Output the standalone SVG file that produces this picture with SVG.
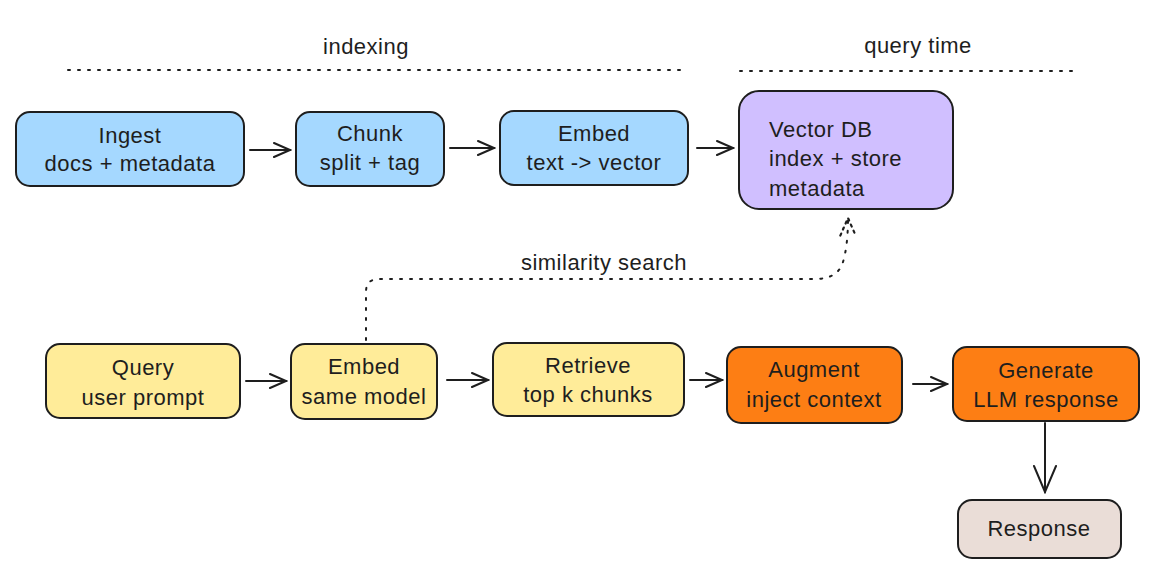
<svg xmlns="http://www.w3.org/2000/svg" width="1154" height="576" viewBox="0 0 1154 576">
<style>
.n{stroke:#1e1e1e;stroke-width:2;}
.blue{fill:#a5d8ff}.purple{fill:#d0bfff}.yellow{fill:#ffec99}.orange{fill:#fd7e14}.beige{fill:#eaddd7}
text{font-family:"Liberation Sans","Noto Sans",sans-serif;font-size:22px;letter-spacing:0.5px;fill:#1e1e1e;text-anchor:middle;dominant-baseline:central}
.c{stroke:#1e1e1e;stroke-width:2;fill:none;stroke-linecap:round}
.dot{stroke:#1e1e1e;stroke-width:2;fill:none;stroke-dasharray:2 8;stroke-linecap:round}
</style>
<defs>
<marker id="ah" viewBox="0 0 20 20" refX="18" refY="10" markerWidth="20" markerHeight="20" markerUnits="userSpaceOnUse" orient="auto">
<path d="M2,3 L18,10 L2,17" fill="none" stroke="#1e1e1e" stroke-width="2" stroke-linecap="round"/>
</marker>
<marker id="ahd" viewBox="0 0 20 20" refX="18" refY="10" markerWidth="22" markerHeight="22" markerUnits="userSpaceOnUse" orient="auto">
<path d="M2,3 L18,10 L2,17" fill="none" stroke="#1e1e1e" stroke-width="2" stroke-dasharray="2 4" stroke-linecap="round"/>
</marker>
<marker id="ahv" viewBox="0 0 30 30" refX="28" refY="15" markerWidth="30" markerHeight="30" markerUnits="userSpaceOnUse" orient="auto">
<path d="M2,4 L28,15 L2,26" fill="none" stroke="#1e1e1e" stroke-width="2" stroke-linecap="round"/>
</marker>
</defs>
<rect width="1154" height="576" fill="#ffffff"/>

<g id="section-labels">
<text x="366" y="46">indexing</text>
<line class="dot" x1="68" y1="70" x2="688" y2="70"/>
<text x="918" y="45">query time</text>
<line class="dot" x1="740" y1="71" x2="1078" y2="71"/>
</g>

<g id="connectors">
<line class="c" x1="250" y1="150" x2="290" y2="150" marker-end="url(#ah)"/>
<line class="c" x1="450" y1="148" x2="494" y2="148" marker-end="url(#ah)"/>
<line class="c" x1="697" y1="148" x2="733" y2="148" marker-end="url(#ah)"/>
<line class="c" x1="246" y1="381" x2="286" y2="381" marker-end="url(#ah)"/>
<line class="c" x1="447" y1="380" x2="488" y2="380" marker-end="url(#ah)"/>
<line class="c" x1="690" y1="380" x2="722" y2="380" marker-end="url(#ah)"/>
<line class="c" x1="913" y1="384" x2="947" y2="384" marker-end="url(#ah)"/>
<line class="c" x1="1045" y1="423" x2="1045" y2="492" marker-end="url(#ahv)"/>
<path class="dot" d="M366,340 L366,292 Q366,279 379,279 L815,279 Q838,279 843,262 Q848,245 848,218" marker-end="url(#ahd)"/>
<text x="604" y="262">similarity search</text>
</g>

<g id="ingest">
<rect class="n blue" x="16" y="112" width="228" height="74" rx="14"/>
<text x="130" y="135">Ingest</text>
<text x="130" y="163">docs + metadata</text>
</g>
<g id="chunk">
<rect class="n blue" x="296" y="112" width="148" height="74" rx="14"/>
<text x="370" y="133">Chunk</text>
<text x="370" y="162">split + tag</text>
</g>
<g id="embed-index">
<rect class="n blue" x="500" y="111" width="188" height="74" rx="14"/>
<text x="594" y="133">Embed</text>
<text x="594" y="162">text -&gt; vector</text>
</g>
<g id="vector-db">
<rect class="n purple" x="739" y="91" width="214" height="118" rx="20"/>
<text x="769" y="129" style="text-anchor:start">Vector DB</text>
<text x="769" y="158" style="text-anchor:start">index + store</text>
<text x="769" y="188" style="text-anchor:start">metadata</text>
</g>
<g id="query">
<rect class="n yellow" x="46" y="344" width="194" height="74" rx="14"/>
<text x="143" y="367">Query</text>
<text x="143" y="397">user prompt</text>
</g>
<g id="embed-query">
<rect class="n yellow" x="291" y="344" width="146" height="75" rx="14"/>
<text x="364" y="366">Embed</text>
<text x="364" y="396">same model</text>
</g>
<g id="retrieve">
<rect class="n yellow" x="493" y="343" width="191" height="73" rx="14"/>
<text x="588" y="365">Retrieve</text>
<text x="588" y="394">top k chunks</text>
</g>
<g id="augment">
<rect class="n orange" x="727" y="347" width="175" height="76" rx="14"/>
<text x="814" y="369">Augment</text>
<text x="814" y="399">inject context</text>
</g>
<g id="generate">
<rect class="n orange" x="953" y="347" width="186" height="74" rx="14"/>
<text x="1046" y="370">Generate</text>
<text x="1046" y="399">LLM response</text>
</g>
<g id="response">
<rect class="n beige" x="958" y="500" width="163" height="58" rx="14"/>
<text x="1039" y="528">Response</text>
</g>
</svg>
